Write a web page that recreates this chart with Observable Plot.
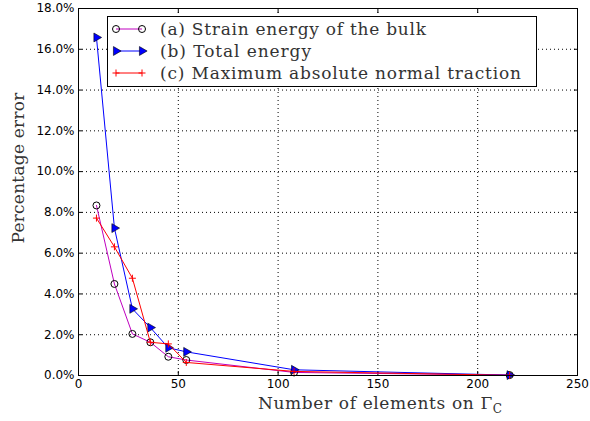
<!DOCTYPE html>
<html><head><meta charset="utf-8">
<script src="https://cdn.jsdelivr.net/npm/d3@7"></script>
<script src="https://cdn.jsdelivr.net/npm/@observablehq/plot@0.6"></script>
<style>
body{margin:0;background:#fff;}
#chart{position:relative;width:590px;height:421px;}
.serif{font-family:"DejaVu Serif", "Liberation Serif", serif !important;}
</style></head><body><div id="chart"></div>
<script>
// Data (percent error vs number of elements on Gamma_C)
const elements = [9, 18, 27, 36, 45, 54, 108, 216];
const strainEnergy = [8.34, 4.49, 2.04, 1.63, 0.92, 0.76, 0.15, 0.02];
const totalEnergy = [16.58, 7.23, 3.27, 2.35, 1.36, 1.16, 0.28, 0.02];
const maxTraction = [7.72, 6.31, 4.77, 1.63, 1.55, 0.64, 0.20, 0.01];
const xTicks = [0, 50, 100, 150, 200, 250];
const yTicks = [0, 2, 4, 6, 8, 10, 12, 14, 16, 18];
const seriesNames = ["(a) Strain energy of the bulk", "(b) Total energy", "(c) Maximum absolute normal traction"];
const seriesColors = ["#bf00bf", "#0000ff", "#ff0000"];
const xLabel = "Number of elements on Γ";
const xLabelSub = "C";
const yLabel = "Percentage error";

const rows = vals => elements.map((x, i) => ({x, y: vals[i]}));
const A = rows(strainEnergy), B = rows(totalEnergy), C = rows(maxTraction);

const chart = Plot.plot({
  width: 590, height: 421,
  marginLeft: 78, marginRight: 13, marginTop: 8, marginBottom: 46,
  style: {fontFamily: "DejaVu Sans", fontSize: "12px", color: "#000", background: "#fff", overflow: "visible"},
  x: {domain: [0, 250]},
  y: {domain: [0, 18]},
  marks: [
    Plot.gridX(xTicks, {stroke: "#000", strokeOpacity: 1, strokeDasharray: "1,3", strokeWidth: 1}),
    Plot.gridY(yTicks, {stroke: "#000", strokeOpacity: 1, strokeDasharray: "1,3", strokeWidth: 1}),
    Plot.axisX(xTicks, {anchor: "bottom", tickSize: -4, tickPadding: 8, label: null, fontSize: 12}),
    Plot.axisY(yTicks, {anchor: "left", tickSize: -4, tickPadding: 8, label: null, fontSize: 12, tickFormat: d => d.toFixed(1) + "%"}),
    Plot.axisX(xTicks, {anchor: "top", tickSize: -4, tickFormat: () => "", label: null}),
    Plot.axisY(yTicks, {anchor: "right", tickSize: -4, tickFormat: () => "", label: null}),
    Plot.line(A, {x: "x", y: "y", stroke: seriesColors[0], strokeWidth: 1}),
    Plot.dot(A, {x: "x", y: "y", r: 3.5, stroke: "#000", fill: "none", strokeWidth: 1}),
    Plot.line(B, {x: "x", y: "y", stroke: seriesColors[1], strokeWidth: 1}),
    Plot.dot(B, {x: "x", y: "y", r: 3.3, symbol: "triangle", rotate: 90, fill: seriesColors[1], stroke: "#000", strokeWidth: 0.6}),
    Plot.line(C, {x: "x", y: "y", stroke: seriesColors[2], strokeWidth: 1}),
    Plot.dot(C, {x: "x", y: "y", r: 2.4, symbol: "plus", stroke: seriesColors[2], strokeWidth: 1}),
    Plot.frame({stroke: "#000", strokeWidth: 1})
  ]
});
document.getElementById("chart").appendChild(chart);

const svg = d3.select(chart);
// axis labels
svg.append("text").attr("class", "serif")
  .attr("transform", "translate(18,168) rotate(-90)")
  .attr("text-anchor", "middle").attr("dominant-baseline", "central")
  .style("font-size", "17px").attr("fill", "#333")
  .attr("textLength", 151)
  .text(yLabel);
const xl = svg.append("text").attr("class", "serif")
  .attr("x", 380).attr("y", 409).attr("text-anchor", "middle")
  .style("font-size", "17px").attr("fill", "#333")
  .attr("textLength", 244);
xl.append("tspan").text(xLabel);
xl.append("tspan").style("font-size", "12px").attr("dy", 4).text(xLabelSub);

// legend
const lg = svg.append("g");
lg.append("rect").attr("x", 107.5).attr("y", 16.5).attr("width", 429).attr("height", 70)
  .attr("fill", "#fff").attr("stroke", "#000").attr("stroke-width", 1);
const rowY = [29, 51, 73];
const rowLen = [266, 151, 361];
const x0 = 116, x1 = 142;
seriesNames.forEach((name, i) => {
  const y = rowY[i];
  lg.append("line").attr("x1", x0).attr("x2", x1).attr("y1", y).attr("y2", y)
    .attr("stroke", seriesColors[i]).attr("stroke-width", 1);
  [x0, x1].forEach(cx => {
    if (i === 0) {
      lg.append("circle").attr("cx", cx).attr("cy", y).attr("r", 3.5)
        .attr("fill", "none").attr("stroke", "#000");
    } else if (i === 1) {
      lg.append("path").attr("d", d3.symbol(d3.symbolTriangle, Math.PI * 3.3 * 3.3)())
        .attr("transform", `translate(${cx},${y}) rotate(90)`)
        .attr("fill", seriesColors[1]).attr("stroke", "#000").attr("stroke-width", 0.6);
    } else {
      lg.append("path").attr("d", d3.symbol(d3.symbolPlus, Math.PI * 2.4 * 2.4)())
        .attr("transform", `translate(${cx},${y})`)
        .attr("fill", "none").attr("stroke", seriesColors[2]).attr("stroke-width", 1);
    }
  });
  lg.append("text").attr("class", "serif").attr("x", 160).attr("y", y)
    .attr("dominant-baseline", "central").attr("text-anchor", "start")
    .style("font-size", "17px").attr("fill", "#333")
    .attr("textLength", rowLen[i])
    .text(name);
});
</script></body></html>
